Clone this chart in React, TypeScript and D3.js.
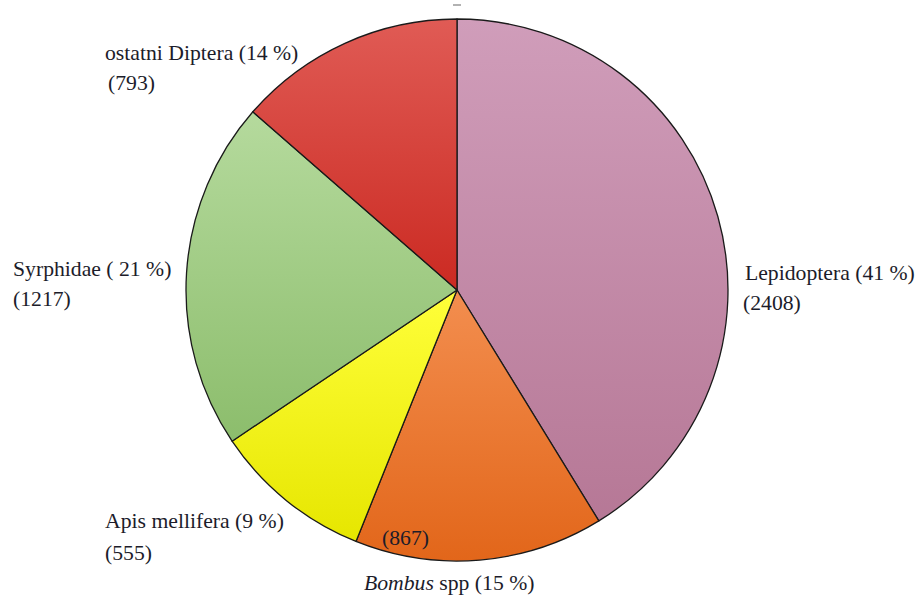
import { useEffect, useRef } from 'react';
import * as d3 from 'd3';

// slices, clockwise from 12 o'clock
const groups = ['Lepidoptera', 'Bombus', 'Apis', 'Syrphidae', 'Diptera'];
const counts = [2408, 867, 555, 1217, 793];
const topColors = ['#d09dba', '#f38e4f', '#ffff3a', '#b5da9d', '#e05b55'];
const bottomColors = ['#b67896', '#e2661a', '#e6e600', '#8cbd6c', '#cb2a22'];

// label lines: name line, count line
const labelName = ['Lepidoptera (41 %)', 'spp (15 %)', 'Apis mellifera (9 %)', 'Syrphidae ( 21 %)', 'ostatni Diptera (14 %)'];
const labelCount = ['(2408)', '(867)', '(555)', '(1217)', '(793)'];

// name / count positions
const namePos = [[745, 280], [364, 590], [105, 528], [13, 276], [105, 60]];
const countPos = [[743, 310], [382, 545], [105, 560], [13, 306], [108, 90]];

const textStyle: React.CSSProperties = { fontFamily: '"Liberation Serif"', fontSize: 21.7, fill: '#1c1c2a' };

const App: React.FC = () => {
  const ref = useRef<SVGGElement | null>(null);

  useEffect(() => {
    if (!ref.current) return;
    const root = d3.select(ref.current);
    root.selectAll('*').remove();

    const cx = 457, cy = 290, r = 271;

    const defs = root.append('defs');
    groups.forEach((g, i) => {
      const grad = defs.append('linearGradient')
        .attr('id', 'grad-' + g)
        .attr('x1', 0).attr('y1', 0).attr('x2', 0).attr('y2', 1);
      grad.append('stop').attr('offset', '0%').attr('stop-color', topColors[i]);
      grad.append('stop').attr('offset', '100%').attr('stop-color', bottomColors[i]);
    });

    const pie = d3.pie<number>().sort(null).value(d => d);
    const arc = d3.arc<d3.PieArcDatum<number>>().innerRadius(0).outerRadius(r);

    const g = root.append('g').attr('transform', `translate(${cx},${cy})`);
    g.selectAll('path')
      .data(pie(counts))
      .enter().append('path')
      .attr('d', arc)
      .attr('fill', (_, i) => `url(#grad-${groups[i]})`)
      .attr('stroke', '#1a1a1a')
      .attr('stroke-width', 1.3)
      .attr('stroke-linejoin', 'round');

    // small mark above the pie
    root.append('line')
      .attr('x1', 453).attr('x2', 461).attr('y1', 5).attr('y2', 5)
      .attr('stroke', '#999').attr('stroke-width', 1.5);
  }, []);

  return (
    <svg width={917} height={595}
      style={{ position: 'absolute', left: 0, top: 0, background: '#fff' }}>
      <g ref={ref} />
      {labelName.map((l, i) => (
        <g key={groups[i]}>
          <text x={namePos[i][0]} y={namePos[i][1]} style={textStyle}>
            {groups[i] === 'Bombus' ? (
              <><tspan style={{ fontStyle: 'italic' }}>Bombus</tspan> {l}</>
            ) : l}
          </text>
          <text x={countPos[i][0]} y={countPos[i][1]} style={textStyle}>{labelCount[i]}</text>
        </g>
      ))}
    </svg>
  );
};

export default App;
